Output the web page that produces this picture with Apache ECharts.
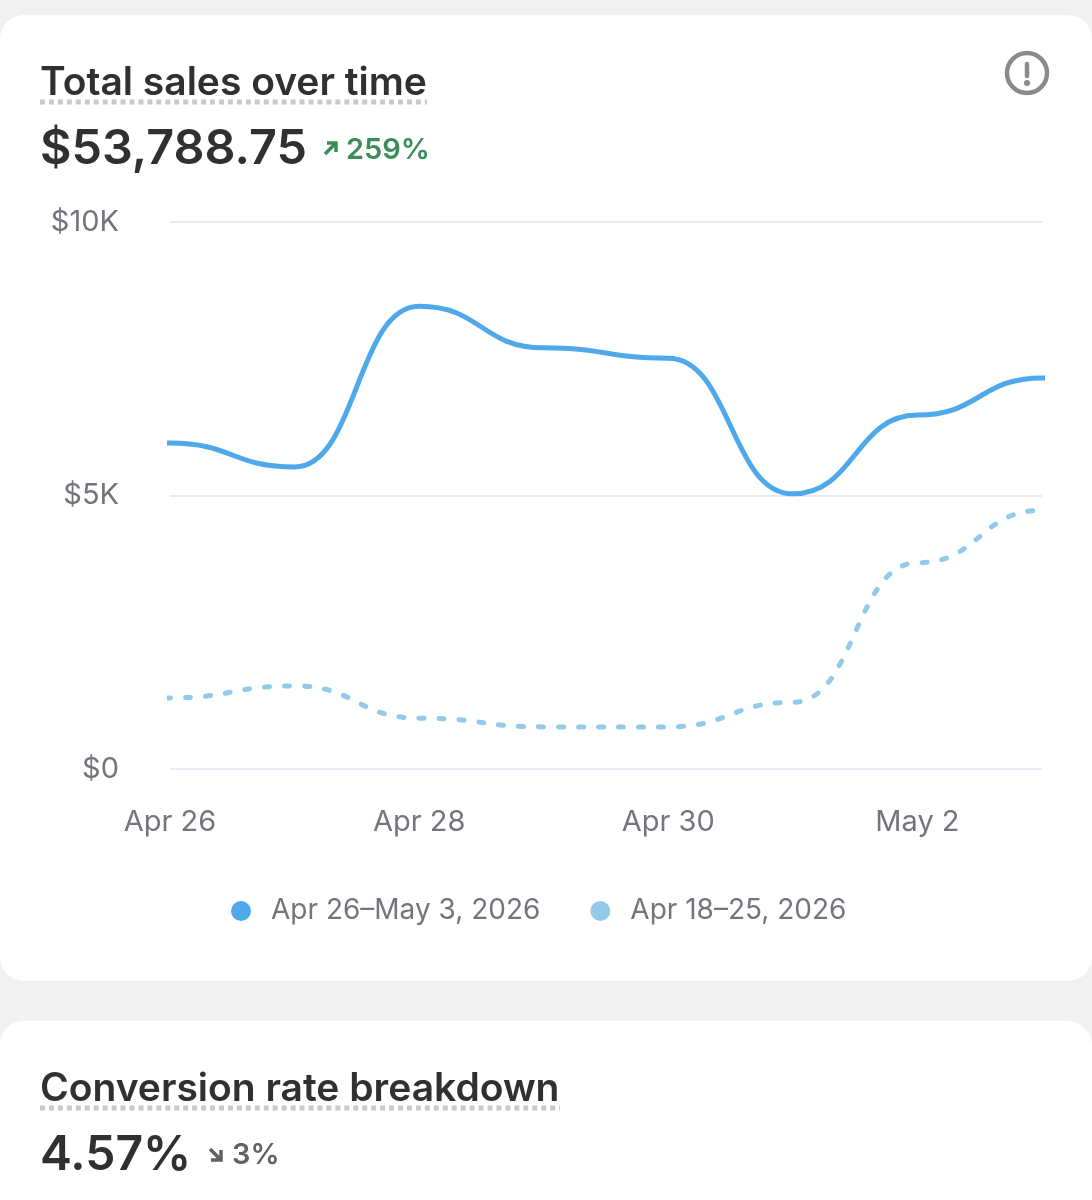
<!DOCTYPE html>
<html><head><meta charset="utf-8">
<style>html,body{margin:0;padding:0;background:#f1f1f1}#c{width:1092px;height:1200px}</style>
<script src="https://cdn.jsdelivr.net/npm/echarts@6/dist/echarts.min.js"></script>
</head><body><div id="c"></div>
<script>
const categories = ['Apr 26','Apr 27','Apr 28','Apr 29','Apr 30','May 1','May 2','May 3'];
const currentSales = [5960,5520,8460,7700,7510,5030,6470,7150];
const previousSales = [1300,1520,930,770,770,1220,3770,4730];
const currentName = 'Apr 26–May 3, 2026';
const previousName = 'Apr 18–25, 2026';
const yTickLabels = {0:'$0',5000:'$5K',10000:'$10K'};
const FF = 'Inter';
const dark = '#303030';
function txt(x,y,text,size,weight,fill){
  return {type:'text',z:5,style:{x,y,text,fontFamily:FF,fontSize:size,fontWeight:weight,fill,textAlign:'left',textVerticalAlign:'middle'}};
}
function dots(x1,x2,y){
  return {type:'line',z:5,shape:{x1,y1:y,x2,y2:y},style:{stroke:'#c9c9c9',lineWidth:5,lineDash:[5,3.95]}};
}
// Each end value is held flat just past the visible range, so the curve leaves the plot edges level.
function withHeldEnds(values){
  const pts = values.map((v,i)=>[i,v]);
  return [[-1,values[0]],...pts,[values.length,values[values.length-1]]];
}
const chart = echarts.init(document.getElementById('c'),null,{renderer:'canvas',width:1092,height:1200});
chart.setOption({
  animation:false,
  backgroundColor:'#f1f1f1',
  graphic:[
    {type:'rect',z:-10,shape:{x:0,y:15,width:1092,height:966,r:24},style:{fill:'#fff'}},
    {type:'rect',z:-10,shape:{x:0,y:1021,width:1092,height:220,r:24},style:{fill:'#fff'}},
    txt(40,83,'Total sales over time',39,600,dark),
    dots(40,427,102),
    txt(40,149,'$53,788.75',48.5,600,dark),
    {type:'polyline',z:5,shape:{points:[[325,154],[335,144]]},style:{stroke:'#3c8d5a',lineWidth:3.5,fill:null}},
    {type:'polyline',z:5,shape:{points:[[327,143],[336,143],[336,152]]},style:{stroke:'#3c8d5a',lineWidth:3.5,fill:null}},
    txt(346,150,'259%',29,600,'#3c8d5a'),
    {type:'circle',z:5,shape:{cx:1027,cy:73,r:20},style:{stroke:'#8a8a8a',lineWidth:4.5,fill:null}},
    {type:'line',z:5,shape:{x1:1027,y1:64,x2:1027,y2:76},style:{stroke:'#8a8a8a',lineWidth:4.5,lineCap:'round'}},
    {type:'circle',z:5,shape:{cx:1027,cy:83,r:3},style:{fill:'#8a8a8a'}},
    txt(40,1089,'Conversion rate breakdown',39,600,dark),
    dots(40,560,1108),
    txt(40,1156,'4.57%',48,600,dark),
    {type:'polyline',z:5,shape:{points:[[210,1149],[220,1159]]},style:{stroke:'#616161',lineWidth:3.5,fill:null}},
    {type:'polyline',z:5,shape:{points:[[221,1150],[221,1160],[211,1160]]},style:{stroke:'#616161',lineWidth:3.5,fill:null}},
    txt(232,1155,'3%',29,600,'#616161')
  ],
  grid:{left:170,right:50,top:222,height:547,containLabel:false},
  legend:{
    top:892,left:226,itemGap:50,itemWidth:20,itemHeight:20,icon:'circle',
    textStyle:{fontFamily:FF,fontSize:28,color:'#74747f',padding:[0,0,0,15]},
    data:[currentName,previousName]
  },
  xAxis:{
    type:'value',min:0,max:7,interval:2,
    axisLine:{show:false},axisTick:{show:false},splitLine:{show:false},
    axisLabel:{margin:39,fontFamily:FF,fontSize:29,color:'#74747f',showMaxLabel:false,hideOverlap:false,
      formatter:v=>(v%2===0?categories[v]:'')}
  },
  yAxis:{
    type:'value',min:0,max:10000,interval:5000,
    axisLine:{show:false},axisTick:{show:false},
    splitLine:{lineStyle:{color:'#e9eaf1',width:2}},
    axisLabel:{margin:51,fontFamily:FF,fontSize:29,color:'#74747f',verticalAlign:'middle',
      lineHeight:29,padding:[0,0,5,0],
      formatter:v=>yTickLabels[v]}
  },
  series:[
    {name:currentName,type:'line',data:withHeldEnds(currentSales),smooth:0.5,smoothMonotone:'x',clip:true,showSymbol:false,symbol:'none',
     itemStyle:{color:'#4fa8ea'},lineStyle:{color:'#4fa8ea',width:5,cap:'round'},z:3},
    {name:previousName,type:'line',data:withHeldEnds(previousSales),smooth:0.5,smoothMonotone:'x',clip:true,showSymbol:false,symbol:'none',
     itemStyle:{color:'#93c9e9'},lineStyle:{color:'#93c9e9',width:5,type:[5,15],cap:'round'},z:2}
  ]
});
</script></body></html>
